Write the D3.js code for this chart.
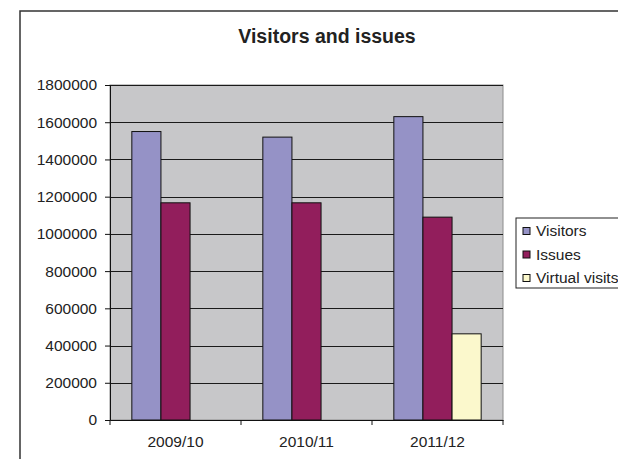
<!DOCTYPE html>
<html>
<head>
<meta charset="utf-8">
<script src="https://cdn.jsdelivr.net/npm/d3@7"></script>
<style>
  body { margin: 0; background: #fff; }
  text { font-family: "Liberation Sans", Arial, sans-serif; fill: #222; }
</style>
</head>
<body>
<div id="chart"></div>
<script>
const width = 618;
const height = 459;

const years = ["2009/10", "2010/11", "2011/12"];
const seriesNames = ["Visitors", "Issues", "Virtual visits"];
const visitors = [1550000, 1520000, 1630000];
const issues = [1167000, 1167000, 1090000];
const virtualVisits = [0, 0, 463000];
const yTicks = [0, 200000, 400000, 600000, 800000, 1000000, 1200000, 1400000, 1600000, 1800000];

const colors = {"Visitors": "#9592c6", "Issues": "#921e5c", "Virtual visits": "#fbf8cc"};
const plot = {left: 110, top: 85, right: 503, bottom: 420};

const svg = d3.select("#chart").append("svg")
  .attr("width", width)
  .attr("height", height);

// outer chart frame (runs off the right and bottom of the picture)
svg.append("rect")
  .attr("x", 20).attr("y", 11)
  .attr("width", 700).attr("height", 500)
  .attr("fill", "#fff")
  .attr("stroke", "#333")
  .attr("stroke-width", 1.5);

svg.append("text")
  .attr("x", 327)
  .attr("y", 43)
  .attr("text-anchor", "middle")
  .style("font-size", "19.5px")
  .style("font-weight", "bold")
  .text("Visitors and issues");

const x0 = d3.scaleBand().domain(years).range([plot.left, plot.right]);
const bw = x0.bandwidth();
const gap = bw * 1.5 / 4.5;
const x1 = d3.scaleBand().domain(seriesNames).range([gap / 2, bw - gap / 2]);
const y = d3.scaleLinear().domain([0, 1800000]).range([plot.bottom, plot.top]);

// plot area
svg.append("rect")
  .attr("x", plot.left).attr("y", plot.top)
  .attr("width", plot.right - plot.left)
  .attr("height", plot.bottom - plot.top)
  .attr("fill", "#c7c7c9")
  .attr("stroke", "#8c8c8c")
  .attr("stroke-width", 1);

// gridlines
svg.append("g").selectAll("line")
  .data(yTicks.filter(d => d > 0))
  .join("line")
  .attr("x1", plot.left).attr("x2", plot.right)
  .attr("y1", d => Math.round(y(d)) + 0.5)
  .attr("y2", d => Math.round(y(d)) + 0.5)
  .attr("stroke", "#1a1a1a")
  .attr("stroke-width", 1);

const rows = years.map((yr, i) => ({
  year: yr,
  values: [
    {key: "Visitors", val: visitors[i]},
    {key: "Issues", val: issues[i]},
    {key: "Virtual visits", val: virtualVisits[i]}
  ].filter(d => d.val > 0)
}));

svg.append("g").selectAll("g")
  .data(rows)
  .join("g")
  .attr("transform", d => `translate(${x0(d.year)},0)`)
  .selectAll("rect")
  .data(d => d.values)
  .join("rect")
  .attr("x", d => x1(d.key))
  .attr("y", d => y(d.val))
  .attr("width", x1.bandwidth())
  .attr("height", d => y(0) - y(d.val))
  .attr("fill", d => colors[d.key])
  .attr("stroke", "#111")
  .attr("stroke-width", 1);

// axes
const xAxis = svg.append("g")
  .attr("transform", `translate(0,${plot.bottom})`)
  .call(d3.axisBottom(x0).tickSize(0).tickPadding(16));
xAxis.select(".domain").attr("stroke", "#111");
xAxis.selectAll("text").style("font-size", "15.5px").attr("fill", "#222");
xAxis.selectAll(".sep")
  .data(d3.range(years.length + 1))
  .join("line")
  .attr("class", "sep")
  .attr("x1", i => i < years.length ? x0(years[i]) : plot.right)
  .attr("x2", i => i < years.length ? x0(years[i]) : plot.right)
  .attr("y1", 0).attr("y2", 5)
  .attr("stroke", "#111");

const yAxis = svg.append("g")
  .attr("transform", `translate(${plot.left},0)`)
  .call(d3.axisLeft(y).tickValues(yTicks).tickFormat(d3.format("d")).tickSize(5).tickPadding(8));
yAxis.select(".domain").attr("stroke", "#111");
yAxis.selectAll(".tick line").attr("stroke", "#111");
yAxis.selectAll("text").style("font-size", "15.5px").attr("fill", "#222");

// legend
const legend = svg.append("g").attr("transform", "translate(516,218)");
legend.append("rect")
  .attr("width", 120).attr("height", 70)
  .attr("fill", "#fff")
  .attr("stroke", "#222")
  .attr("stroke-width", 1);
const item = legend.selectAll("g.item")
  .data(seriesNames)
  .join("g")
  .attr("class", "item")
  .attr("transform", (d, i) => `translate(0,${13 + i * 23.5})`);
item.append("rect")
  .attr("x", 7).attr("y", -3.5)
  .attr("width", 7).attr("height", 7)
  .attr("fill", d => colors[d])
  .attr("stroke", "#111");
item.append("text")
  .attr("x", 20)
  .attr("dy", "0.35em")
  .style("font-size", "15.5px")
  .text(d => d);
</script>
</body>
</html>
